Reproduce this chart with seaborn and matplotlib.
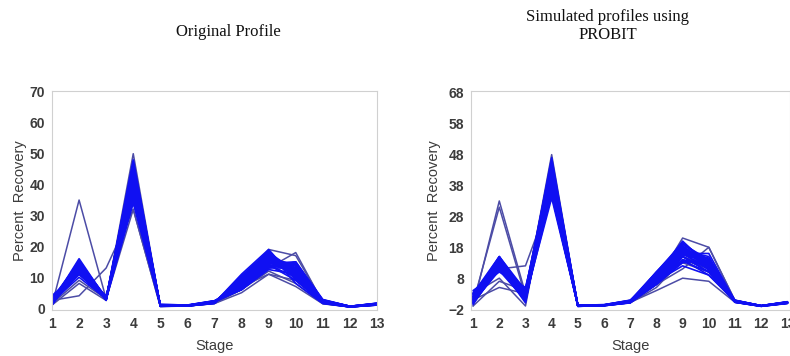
import matplotlib
matplotlib.use("Agg")
import matplotlib.pyplot as plt
import seaborn as sns
import pandas as pd

stages = list(range(1, 14))

# Original dissolution profiles (percent recovery per stage)
orig_main = [
    [2, 13, 3, 42, 0.8, 0.8, 2, 8, 16, 12, 2, 0.5, 1.2],
    [1.5, 14, 3, 45, 0.7, 0.8, 1.8, 9, 17, 11, 2, 0.5, 1.3],
    [3, 12, 3.5, 40, 1, 0.9, 2.2, 7, 15, 13, 2.5, 0.5, 1.4],
    [1, 15, 2.8, 47, 0.6, 0.7, 1.6, 10, 18, 10, 1.8, 0.4, 1.1],
    [2.5, 11, 3.2, 38, 0.9, 0.8, 2, 6, 14, 14, 2.2, 0.5, 1.5],
    [2, 16, 3, 48, 0.7, 0.8, 1.7, 11, 19, 9, 1.6, 0.4, 1],
    [4, 12, 4, 36, 1.2, 1, 2.4, 6, 13, 15, 2.8, 0.6, 1.6],
    [1.5, 13, 2.7, 44, 0.8, 0.8, 1.9, 8, 16, 12, 2, 0.5, 1.2],
    [3, 14, 3.3, 41, 1, 0.9, 2.1, 9, 17, 13, 2.3, 0.5, 1.3],
    [2, 10, 3, 37, 0.9, 0.8, 2, 7, 15, 11, 2.1, 0.5, 1.2],
    [1, 13, 2.5, 46, 0.6, 0.7, 1.5, 10, 18, 8, 1.5, 0.4, 1],
    [2.5, 15, 3.5, 43, 0.8, 0.8, 2, 8, 16, 14, 2.4, 0.5, 1.3],
    [3.5, 12, 3, 39, 1.1, 0.9, 2.3, 7, 14, 12, 2.5, 0.6, 1.5],
    [2, 14, 3, 47, 0.7, 0.8, 1.8, 9, 17, 10, 1.9, 0.5, 1.1],
    [1.5, 11, 2.8, 35, 0.9, 0.8, 2.2, 6, 13, 13, 2.6, 0.6, 1.4],
    [2, 13, 3.1, 42, 0.8, 0.8, 2, 8, 15, 12, 2.2, 0.5, 1.2],
    [3, 15, 3.4, 45, 0.9, 0.9, 2.1, 9, 16, 14, 2.3, 0.5, 1.3],
    [2.5, 12, 3.2, 40, 1, 0.9, 2.2, 8, 16, 11, 2.2, 0.5, 1.3],
    [2, 14, 3, 44, 0.8, 0.8, 1.9, 10, 18, 12, 2.1, 0.5, 1.2],
    [1.5, 12, 2.9, 38, 0.8, 0.8, 2, 7, 14, 10, 2, 0.5, 1.2],
    [2.2, 13.5, 3.1, 34, 0.9, 0.8, 2.1, 7.5, 15.5, 12.5, 2.3, 0.5, 1.3],
    [1.2, 14.5, 2.6, 46.5, 0.7, 0.7, 1.7, 9.5, 17.5, 10.5, 1.8, 0.4, 1.1],
    [3.2, 11.5, 3.6, 36.5, 1.1, 0.9, 2.3, 6.5, 13.5, 14.5, 2.6, 0.6, 1.5],
    [2.8, 12.5, 3.3, 39.5, 1, 0.9, 2.2, 8.5, 16.5, 13.5, 2.4, 0.5, 1.4],
    [1.8, 15.5, 2.9, 43.5, 0.8, 0.8, 1.9, 9, 17, 11.5, 2, 0.5, 1.2],
    [2.4, 13, 3.2, 41.5, 0.9, 0.8, 2, 8, 15, 12, 2.2, 0.5, 1.3],
    [3.8, 12, 3.8, 35.5, 1.2, 1, 2.4, 6, 12.5, 11, 2.7, 0.6, 1.6],
    [1.4, 14, 2.7, 45.5, 0.7, 0.7, 1.6, 10.5, 18.5, 9.5, 1.7, 0.4, 1.1],
    [2.6, 13.5, 3.4, 37.5, 1, 0.9, 2.2, 7, 14.5, 15, 2.5, 0.6, 1.4],
    [2, 12.5, 3, 44.5, 0.8, 0.8, 1.9, 9, 16, 10, 2, 0.5, 1.2],
    [1.6, 14, 2.8, 42.5, 0.8, 0.8, 1.8, 8.5, 16, 13, 2.1, 0.5, 1.2],
    [3, 11, 3.5, 38.5, 1, 0.9, 2.3, 7.5, 15, 12, 2.4, 0.6, 1.4],
    [2.3, 15, 3.1, 47.5, 0.8, 0.8, 1.8, 10, 17.5, 11, 1.9, 0.5, 1.2],
    [1.9, 12, 2.9, 40.5, 0.9, 0.8, 2, 7, 14, 9, 2.1, 0.5, 1.2],
]
orig_dark = [
    [1, 35, 3, 32, 0.5, 0.7, 1.5, 6, 12, 8, 1.5, 0.4, 1],
    [2.5, 4, 13, 32, 0.6, 0.7, 1.6, 7, 11, 9, 1.6, 0.5, 1.2],
    [1.5, 9, 3, 50, 0.6, 0.7, 1.7, 8, 13, 18, 1.8, 0.4, 1.1],
    [2, 11, 3, 46, 0.7, 0.8, 1.8, 9, 19, 17, 2, 0.5, 1.6],
    [1, 8, 2.5, 40, 0.6, 0.7, 1.5, 5, 11, 7, 1.4, 0.4, 1],
]

# Simulated profiles (PROBIT)
sim_main = [
    [1, 13, 2, 40, -1, -0.8, 0.3, 8, 17, 12, 0.5, -1, 0],
    [2, 14, 3, 44, -0.8, -0.7, 0.5, 9, 18, 13, 0.6, -1, 0.2],
    [0, 12, 1, 38, -1, -0.8, 0.2, 7, 16, 11, 0.3, -1, -0.1],
    [3, 15, 4, 46, -0.7, -0.6, 0.8, 10, 19, 14, 0.8, -0.9, 0.3],
    [1.5, 11, 2.5, 36, -1.1, -0.9, 0, 6, 15, 10, 0.2, -1.1, -0.2],
    [-0.5, 12, 0, 42, -0.9, -0.8, 0.4, 8, 17, 15, 0.5, -1, 0.1],
    [2.5, 14, 3.5, 35, -0.8, -0.7, 0.6, 9, 20, 12, 0.7, -0.9, 0.2],
    [1, 13, 2, 43, -1, -0.8, 0.3, 8, 16, 13, 0.4, -1, 0],
    [4, 10, 5, 39, -0.7, -0.6, 0.9, 7, 14, 9, 0.9, -0.9, 0.4],
    [0.5, 15, 1.5, 45, -1, -0.8, 0.2, 10, 18, 11, 0.3, -1, 0],
    [2, 12, 2.5, 37, -0.9, -0.7, 0.5, 6, 13, 14, 0.6, -1, 0.1],
    [1, 14, 3, 41, -1, -0.8, 0.4, 9, 17, 12, 0.5, -1, 0],
    [3, 13, 2, 34, -0.8, -0.7, 0.7, 7, 15, 10, 0.8, -0.9, 0.3],
    [0, 11, 1, 46, -1.1, -0.9, 0.1, 8, 19, 13, 0.2, -1.1, -0.1],
    [2, 13, 4, 40, -0.9, -0.8, 0.5, 8, 16, 16, 0.6, -1, 0.2],
    [1.5, 12, 2, 38, -1, -0.8, 0.3, 7, 12, 9, 0.4, -1, 0],
    [1, 14, 2.5, 42, -0.9, -0.8, 0.4, 9, 18, 12, 0.5, -1, 0.1],
    [2, 12, 3, 39, -0.9, -0.7, 0.5, 8, 16, 11, 0.5, -1, 0.1],
    [0.8, 13.5, 1.8, 44.5, -1, -0.8, 0.3, 9.5, 18.5, 12.5, 0.4, -1, 0],
    [2.8, 12.5, 3.8, 36.5, -0.8, -0.7, 0.7, 7, 15.5, 13.5, 0.7, -0.9, 0.3],
    [1.6, 14.5, 2.2, 41.5, -0.9, -0.8, 0.4, 8.5, 17.5, 11.5, 0.5, -1, 0.1],
    [-0.2, 11.5, 0.5, 39.5, -1.1, -0.9, 0.1, 7.5, 16.5, 14.5, 0.3, -1.1, -0.1],
    [3.4, 13, 4.5, 43.5, -0.7, -0.6, 0.8, 9, 18, 10.5, 0.8, -0.9, 0.3],
    [1.2, 12, 1.5, 37.5, -1, -0.8, 0.2, 6.5, 14, 12, 0.4, -1, 0],
    [2.2, 15, 3.2, 45.5, -0.9, -0.7, 0.5, 10, 19.5, 13, 0.6, -1, 0.2],
    [0.4, 13, 1.2, 35.5, -1, -0.8, 0.2, 7, 15, 11, 0.3, -1, 0],
    [1.8, 12.5, 2.8, 40.5, -0.9, -0.8, 0.4, 8, 16.5, 12, 0.5, -1, 0.1],
    [2.6, 14, 3.4, 42.5, -0.8, -0.7, 0.6, 9, 17, 14, 0.7, -0.9, 0.2],
    [0.2, 10.5, 0.8, 38.5, -1.1, -0.9, 0.1, 6, 13.5, 10, 0.2, -1.1, -0.1],
    [1.4, 13.5, 2.4, 47, -1, -0.8, 0.3, 8.5, 18, 12.5, 0.4, -1, 0],
]
sim_dark = [
    [-1, 33, 3, 36, -1, -0.8, 0, 5, 14, 11, 0.5, -1, 0],
    [0, 31, 2, 38, -0.9, -0.7, 0.3, 6, 15, 12, 0.3, -1, 0.1],
    [2, 11, 12, 35, -0.8, -0.7, 0.4, 7, 21, 18, 0.6, -1, 0.2],
    [1, 5, 3, 48, -1, -0.8, 0.2, 4, 8, 7, 0.2, -1, -0.1],
    [3, 8, -1, 43, -0.8, -0.7, 0.5, 6, 11, 18, 0.8, -0.9, 0.3],
    [-1, 7, 4, 46, -1, -0.8, 0.3, 8, 13, 10, 0.4, -1, 0],
]

BLUE = "#1010f2"
NAVY = "#4c4ca6"
GRAY_TXT = "#3c3c3c"


def long_frame(profiles):
    rows = []
    for i, prof in enumerate(profiles):
        for s, v in zip(stages, prof):
            rows.append({"stage": s, "recovery": v, "profile": i})
    return pd.DataFrame(rows)


sns.set_theme(style="white")
plt.rcParams["font.family"] = ["Liberation Sans", "DejaVu Sans"]

fig = plt.figure(figsize=(7.9, 3.56), dpi=100)
ax1 = fig.add_axes([52 / 790, 46 / 356, 325 / 790, 219 / 356])
ax2 = fig.add_axes([471 / 790, 46 / 356, 319 / 790, 219 / 356])

panels = [
    (ax1, orig_main, orig_dark, (1, 13), (-0.6, 70.3),
     [0, 10, 20, 30, 40, 50, 60, 70], 2),
    (ax2, sim_main, sim_dark, (0.92, 13.1), (-2.3, 68.6),
     [-2, 8, 18, 28, 38, 48, 58, 68], 5),
]

for ax, main, dark, xlim, ylim, yticks, ypad in panels:
    # outlying profiles underneath, the bulk of the profiles on top
    sns.lineplot(data=long_frame(dark), x="stage", y="recovery",
                 units="profile", estimator=None, color=NAVY,
                 linewidth=1.1, legend=False, ax=ax)
    sns.lineplot(data=long_frame(main), x="stage", y="recovery",
                 units="profile", estimator=None, color=BLUE,
                 linewidth=1.2, legend=False, ax=ax)
    ax.set_xlim(*xlim)
    ax.set_ylim(*ylim)
    ax.set_xticks(stages)
    ax.set_yticks(yticks)
    ax.set_xticklabels([str(s) for s in stages])
    ax.set_yticklabels([("\u2212" + str(-t)) if t < 0 else str(t) for t in yticks])
    ax.tick_params(axis="both", length=0, pad=5, labelsize=10,
                   labelcolor=GRAY_TXT)
    for lab in ax.get_xticklabels() + ax.get_yticklabels():
        lab.set_fontweight("bold")
    for sp in ax.spines.values():
        sp.set_color("#d0d0d0")
        sp.set_linewidth(0.8)
    ax.set_xlabel("Stage", fontsize=10.5, color=GRAY_TXT, labelpad=6)
    ax.set_ylabel("Percent  Recovery", fontsize=10.5, color=GRAY_TXT,
                  labelpad=ypad)

fig.text(228 / 790, 1 - 32 / 356, "Original Profile", ha="center",
         va="center", fontsize=12, family="Liberation Serif", color="#111111")
fig.text(608 / 790, 1 - 26 / 356, "Simulated profiles using\nPROBIT",
         ha="center", va="center", fontsize=12, family="Liberation Serif",
         color="#111111", linespacing=1.15)

fig.savefig("out.png", dpi=100)
